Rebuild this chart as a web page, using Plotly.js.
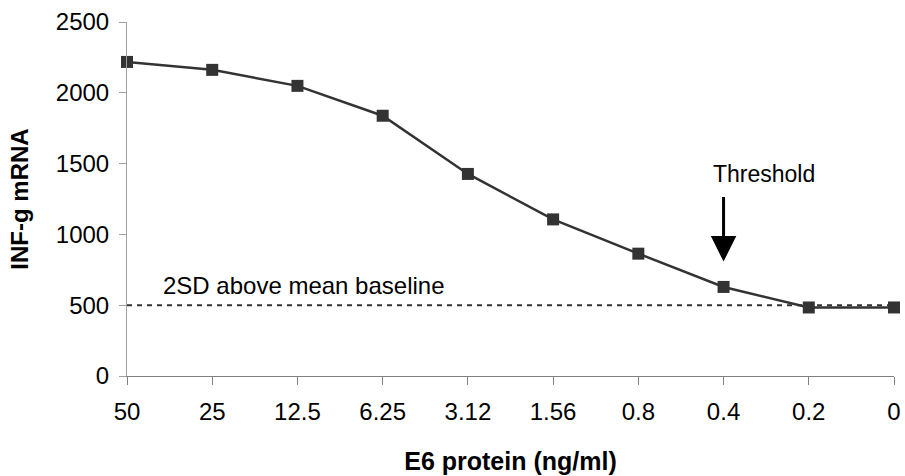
<!DOCTYPE html>
<html>
<head>
<meta charset="utf-8">
<script src="https://cdn.plot.ly/plotly-3.0.1.min.js"></script>
<style>html,body{margin:0;padding:0;background:#fff;}#chart{width:905px;height:476px;}</style>
</head>
<body>
<div id="chart"></div>
<script>
// Data
const concentrations = ['50', '25', '12.5', '6.25', '3.12', '1.56', '0.8', '0.4', '0.2', '0'];
const infgMRNA = [2218, 2162, 2049, 1838, 1427, 1106, 864, 629, 484, 484];
const baseline = 500;               // 2SD above mean baseline
const thresholdCategory = '0.4';
const yTickVals = [0, 500, 1000, 1500, 2000, 2500];

const FONT = 'Liberation Sans, Arial, Helvetica, sans-serif';
const INK = '#333333';
const thresholdIndex = concentrations.indexOf(thresholdCategory);

const trace = {
  type: 'scatter',
  mode: 'lines+markers',
  x: concentrations,
  y: infgMRNA,
  line: {color: INK, width: 2.5},
  marker: {symbol: 'square', size: 12, color: INK},
  cliponaxis: false,
  hoverinfo: 'x+y',
  showlegend: false
};

const layout = {
  width: 905,
  height: 476,
  margin: {l: 127, r: 11, t: 22, b: 100},
  paper_bgcolor: '#ffffff',
  plot_bgcolor: '#ffffff',
  font: {family: FONT, color: '#000000'},
  showlegend: false,
  xaxis: {
    type: 'category',
    range: [0, concentrations.length - 1],
    showgrid: false,
    zeroline: false,
    showline: true,
    linecolor: '#808080',
    linewidth: 1,
    ticks: 'outside',
    ticklen: 8,
    tickcolor: '#808080',
    ticklabelstandoff: 6,
    tickfont: {family: FONT, size: 24, color: '#000'},
    title: {text: 'E6 protein (ng/ml)', font: {family: FONT, size: 25, weight: 'bold', color: '#000'}, standoff: 28}
  },
  yaxis: {
    range: [0, 2500],
    tickvals: yTickVals,
    showgrid: false,
    zeroline: false,
    showline: true,
    linecolor: '#a0a0a0',
    linewidth: 1,
    ticks: 'outside',
    ticklen: 7,
    tickcolor: '#a0a0a0',
    ticklabelstandoff: 5,
    tickfont: {family: FONT, size: 24, color: '#000'},
    title: {text: 'INF-g mRNA', font: {family: FONT, size: 24, weight: 'bold', color: '#000'}, standoff: 20}
  },
  shapes: [{
    type: 'line', xref: 'paper', x0: 0, x1: 1, yref: 'y', y0: baseline, y1: baseline,
    line: {color: INK, width: 2, dash: '5px,5px'},
    layer: 'below'
  }],
  annotations: [
    {
      text: '2SD above mean baseline', x: 0, y: baseline, xref: 'x', yref: 'y',
      xanchor: 'left', yanchor: 'bottom', xshift: 34, yshift: 4, showarrow: false,
      font: {family: FONT, size: 24, color: '#000'}
    },
    {
      text: 'Threshold', x: thresholdIndex, y: 1430, xref: 'x', yref: 'y',
      xanchor: 'left', yanchor: 'middle', xshift: -13, showarrow: false,
      font: {family: FONT, size: 23, color: '#000'}
    },
    {
      text: '', x: thresholdIndex, y: 808, xref: 'x', yref: 'y',
      showarrow: true, ax: 0, ay: -66, arrowhead: 2, arrowsize: 1.7, arrowwidth: 3,
      arrowcolor: '#000', standoff: 0
    }
  ]
};

Plotly.newPlot('chart', [trace], layout, {displayModeBar: false, staticPlot: true});
</script>
</body>
</html>
